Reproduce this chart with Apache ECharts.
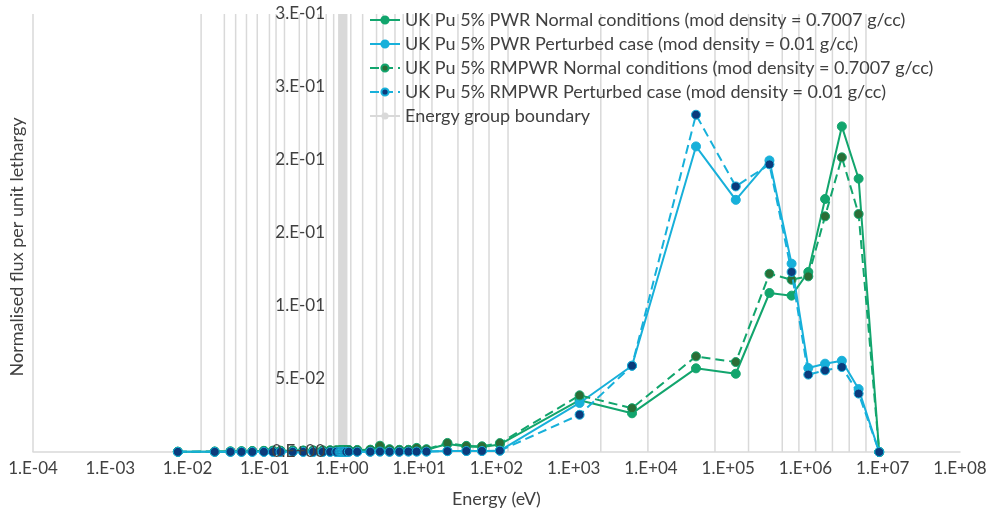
<!DOCTYPE html>
<html>
<head>
<meta charset="utf-8">
<script src="https://cdn.jsdelivr.net/npm/echarts@6/dist/echarts.min.js"></script>
<style>
  html, body { margin: 0; padding: 0; background: #ffffff; }
  #chart { width: 992px; height: 513px; }
</style>
</head>
<body>
<div id="chart"></div>
<script>
// Energy group boundaries (eV)
const groupBoundaries = [
  1e-4, 0.015, 0.03, 0.042, 0.058, 0.08, 0.115, 0.14, 0.18, 0.28, 0.35, 0.5, 0.625, 0.78,
  0.91, 0.95, 0.972, 0.996, 1.02, 1.045, 1.071, 1.097, 1.123, 1.15, 1.3, 1.85, 2.8, 3.4,
  4.85, 6.2, 8.3, 10.2, 14.6, 31.7, 49.7, 80, 141, 2239, 9118, 67340, 183000, 500000,
  821000, 1353000, 2231000, 3679000, 6065500
];

// Representative energy of each group (eV)
const energy = [
  0.0075, 0.0225, 0.036, 0.05, 0.069, 0.0975, 0.1275, 0.16, 0.23, 0.315, 0.425, 0.5625,
  0.7025, 0.845, 0.93, 0.961, 0.984, 1.008, 1.0325, 1.058, 1.084, 1.11, 1.1365, 1.225,
  1.575, 2.325, 3.1, 4.125, 5.525, 7.25, 9.25, 12.4, 23.15, 40.7, 64.85, 110.5, 1190,
  5679, 38229, 125170, 341500, 660500, 1087000, 1792000, 2955000, 4872000, 9000000
];

// Normalised flux per unit lethargy
const pwrNormal = [
  0.0002, 0.0003, 0.0004, 0.0005, 0.0006, 0.0007, 0.0008, 0.0008, 0.0009, 0.0009, 0.0009, 0.0010,
  0.0010, 0.0010, 0.0011, 0.0011, 0.0010, 0.0009, 0.0009, 0.0010, 0.0010, 0.0011, 0.0011, 0.0012,
  0.0012, 0.0014, 0.0036, 0.0016, 0.0013, 0.0013, 0.0024, 0.0016, 0.0055, 0.0037, 0.0034, 0.0052,
  0.0355, 0.0265, 0.0573, 0.0536, 0.1089, 0.1071, 0.1233, 0.1733, 0.2230, 0.1872, 0
];
const pwrPerturbed = [
  0.0001, 0.0001, 0.0001, 0.0001, 0.0001, 0.0001, 0.0001, 0.0001, 0.0001, 0.0001, 0.0001, 0.0001,
  0.0001, 0.0001, 0.0001, 0.0001, 0.0001, 0.0001, 0.0001, 0.0001, 0.0001, 0.0001, 0.0001, 0.0002,
  0.0002, 0.0002, 0.0003, 0.0002, 0.0002, 0.0003, 0.0003, 0.0003, 0.0006, 0.0007, 0.0007, 0.0009,
  0.0336, 0.0591, 0.2093, 0.1727, 0.1997, 0.1290, 0.0575, 0.0605, 0.0625, 0.0431, 0
];
const rmpwrNormal = [
  0.0002, 0.0003, 0.0004, 0.0005, 0.0006, 0.0008, 0.0009, 0.0009, 0.0010, 0.0010, 0.0011, 0.0011,
  0.0012, 0.0012, 0.0012, 0.0013, 0.0012, 0.0011, 0.0011, 0.0012, 0.0012, 0.0013, 0.0013, 0.0014,
  0.0014, 0.0016, 0.0043, 0.0019, 0.0015, 0.0015, 0.0028, 0.0019, 0.0062, 0.0042, 0.0039, 0.0061,
  0.0388, 0.0300, 0.0655, 0.0616, 0.1221, 0.1180, 0.1203, 0.1614, 0.2018, 0.1630, 0
];
const rmpwrPerturbed = [
  0.0001, 0.0001, 0.0001, 0.0001, 0.0001, 0.0001, 0.0001, 0.0001, 0.0001, 0.0001, 0.0001, 0.0001,
  0.0001, 0.0001, 0.0001, 0.0001, 0.0001, 0.0001, 0.0001, 0.0001, 0.0001, 0.0001, 0.0001, 0.0002,
  0.0002, 0.0002, 0.0003, 0.0002, 0.0002, 0.0003, 0.0003, 0.0003, 0.0006, 0.0007, 0.0007, 0.0009,
  0.0255, 0.0591, 0.2310, 0.1819, 0.1970, 0.1233, 0.0530, 0.0559, 0.0582, 0.0400, 0
];

const seriesNames = [
  'UK Pu 5% PWR Normal conditions (mod density = 0.7007 g/cc)',
  'UK Pu 5% PWR Perturbed case (mod density = 0.01 g/cc)',
  'UK Pu 5% RMPWR Normal conditions (mod density = 0.7007 g/cc)',
  'UK Pu 5% RMPWR Perturbed case (mod density = 0.01 g/cc)',
  'Energy group boundary'
];

const Y_MAX = 0.3;

// Excel-style "0.E+00" number format
function sciLabel(v) {
  if (Math.abs(v) < 1e-12) return '0.E+00';
  let e = Math.floor(Math.log10(Math.abs(v)) + 1e-9);
  let m = Math.round(Math.round(v / Math.pow(10, e) * 1e9) / 1e9);
  if (m >= 10) { m = 1; e += 1; }
  const sign = e < 0 ? '-' : '+';
  const ea = Math.abs(e);
  return m + '.E' + sign + (ea < 10 ? '0' : '') + ea;
}

const pairs = vals => energy.map((x, i) => [x, vals[i]]);

// one vertical segment per boundary, broken apart by empty points
const boundaryData = groupBoundaries.flatMap(e => [[e, 0], [e, Y_MAX], [e, null]]);

const GREEN = '#12a56d';
const CYAN = '#17b0da';
const DARK_GREEN = '#2b6d36';
const NAVY = '#0b3b7c';
const GRIDLINE = '#d9d9d9';
const TEXT = '#404040';
const FONT = 'Lato';

const gridLeft = 33, gridRight = 32, gridTop = 14, gridBottom = 61;
const plotWidth = 992 - gridLeft - gridRight;
// the value axis crosses the energy axis at 1 eV
const yCross = plotWidth * (0 - (-4)) / (8 - (-4));

function lineSeries(name, vals, lineColor, markerColor, dashed, z) {
  return {
    name: name,
    type: 'line',
    data: pairs(vals),
    symbol: 'circle',
    symbolSize: 9,
    z: z,
    lineStyle: { color: lineColor, width: 2, type: dashed ? [9, 5] : 'solid' },
    itemStyle: { color: markerColor, borderColor: lineColor, borderWidth: 1 }
  };
}

const chart = echarts.init(document.getElementById('chart'));
chart.setOption({
  animation: false,
  backgroundColor: '#ffffff',
  textStyle: { fontFamily: FONT, color: TEXT },
  grid: { left: gridLeft, right: gridRight, top: gridTop, bottom: gridBottom, containLabel: false, outerBoundsMode: 'none' },
  legend: {
    orient: 'vertical',
    left: 364,
    top: 6,
    itemWidth: 30,
    itemHeight: 9,
    itemGap: 6,
    textStyle: { fontFamily: FONT, fontSize: 18, color: TEXT, lineHeight: 18 },
    data: seriesNames
  },
  graphic: [{
    type: 'text',
    x: 17,
    y: 247,
    rotation: Math.PI / 2,
    style: {
      text: 'Normalised flux per unit lethargy',
      fontFamily: FONT,
      fontSize: 18,
      fill: TEXT,
      textAlign: 'center',
      textVerticalAlign: 'middle'
    }
  }],
  xAxis: {
    type: 'log',
    logBase: 10,
    min: 1e-4,
    max: 1e8,
    interval: 1,
    splitNumber: 12,
    name: 'Energy (eV)',
    nameLocation: 'middle',
    nameGap: 38,
    nameTextStyle: { fontFamily: FONT, fontSize: 18, color: TEXT },
    axisLine: { show: true, lineStyle: { color: GRIDLINE, width: 1.5 } },
    axisTick: { show: false },
    minorTick: { show: false },
    splitLine: { show: false },
    axisLabel: {
      fontFamily: FONT, fontSize: 17, color: TEXT, margin: 8, interval: 0,
      formatter: v => sciLabel(v)
    }
  },
  yAxis: {
    type: 'value',
    min: 0,
    max: Y_MAX,
    interval: 0.05,
    position: 'left',
    offset: -yCross,
    z: 10,
    axisLine: { show: false },
    axisTick: { show: false },
    splitLine: { show: false },
    axisLabel: { fontFamily: FONT, fontSize: 17, color: TEXT, margin: 17, formatter: v => sciLabel(v) }
  },
  series: [
    {
      name: seriesNames[4],
      type: 'line',
      data: boundaryData,
      connectNulls: false,
      symbol: 'none',
      silent: true,
      z: 1,
      lineStyle: { color: GRIDLINE, width: 1.5 },
      itemStyle: { color: GRIDLINE }
    },
    lineSeries(seriesNames[0], pwrNormal, GREEN, GREEN, false, 2),
    lineSeries(seriesNames[1], pwrPerturbed, CYAN, CYAN, false, 3),
    lineSeries(seriesNames[2], rmpwrNormal, GREEN, DARK_GREEN, true, 4),
    lineSeries(seriesNames[3], rmpwrPerturbed, CYAN, NAVY, true, 5)
  ]
});
</script>
</body>
</html>
